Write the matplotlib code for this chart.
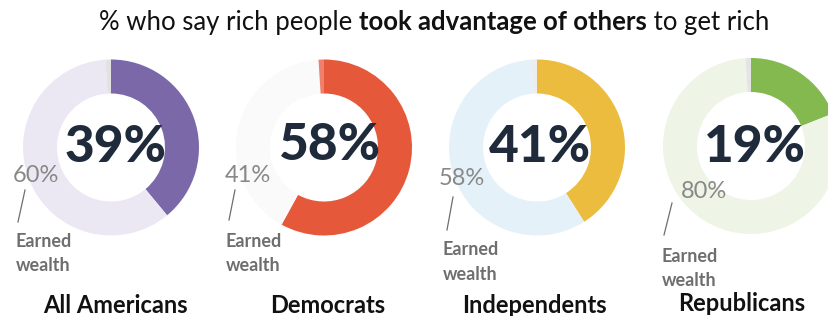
import matplotlib
matplotlib.use("Agg")
import matplotlib.pyplot as plt
from matplotlib.lines import Line2D

# ---- data ----
groups = ["All Americans", "Democrats", "Independents", "Republicans"]
took_advantage = [39, 58, 41, 19]
earned_wealth = [60, 41, 58, 80]
other = [100 - a - b for a, b in zip(took_advantage, earned_wealth)]

title_parts = ["% who say rich people ", "took advantage of others", " to get rich"]
title_weights = ["normal", "bold", "normal"]

main_colors = ["#7B68A9", "#E5583A", "#ECBC3E", "#83B94F"]
earned_colors = ["#EBE8F3", "#FAFAFA", "#E5F1F9", "#EEF4E6"]
other_colors = ["#E2E2E2", "#F0806E", "#EDEDED", "#E4E4E4"]

W, H = 829, 316
fig = plt.figure(figsize=(W / 100, H / 100), dpi=100)
fig.patch.set_facecolor("white")

def fx(x):
    return x / W

def fy(y):
    return 1 - y / H

FONT = "Lato"

# layout (pixels)
centers_x = [111, 324, 537, 751]
centers_y = [147.5, 147.5, 147.5, 146]
R = 88
r_in = 54
big_x = [116, 329, 539.5, 754.5]
big_base = [162, 160, 162, 162]
small_pos = [(13, 182), (225, 182), (439, 185), (681, 198)]
lines = [((25, 190), (18, 222)), ((235, 190), (229, 220)),
         ((453, 197), (447, 230)), ((672, 203), (664, 235))]
earned_pos = [(16, 247, 271), (226, 247, 271), (443, 255, 280), (662, 262, 286)]
label_pos = [(115.5, 313), (327.5, 313), (534, 313), (742, 311)]

for i in range(4):
    cx, cy = centers_x[i], centers_y[i]
    ax = fig.add_axes([fx(cx - R), fy(cy + R), 2 * R / W, 2 * R / H])
    ax.pie([took_advantage[i], earned_wealth[i], other[i]],
           colors=[main_colors[i], earned_colors[i], other_colors[i]],
           startangle=90, counterclock=False, radius=1,
           wedgeprops=dict(width=(R - r_in) / R, linewidth=0))
    ax.set_xlim(-1, 1)
    ax.set_ylim(-1, 1)
    ax.set_aspect("equal")
    ax.axis("off")

    fig.text(fx(big_x[i]), fy(big_base[i]), f"{took_advantage[i]}%",
             ha="center", va="baseline", fontsize=37, fontweight="black",
             color="#1F2A3A", family=FONT)
    sx, sy = small_pos[i]
    fig.text(fx(sx), fy(sy), f"{earned_wealth[i]}%", ha="left", va="baseline",
             fontsize=17, color="#888888", family=FONT)
    (x0, y0), (x1, y1) = lines[i]
    fig.add_artist(Line2D([fx(x0), fx(x1)], [fy(y0), fy(y1)],
                          color="#6E6E6E", linewidth=0.9,
                          transform=fig.transFigure))
    ex, eb1, eb2 = earned_pos[i]
    fig.text(fx(ex), fy(eb1), "Earned", ha="left", va="baseline",
             fontsize=13, fontweight="bold", color="#6E6E6E", family=FONT)
    fig.text(fx(ex), fy(eb2), "wealth", ha="left", va="baseline",
             fontsize=13, fontweight="bold", color="#6E6E6E", family=FONT)
    lx, ly = label_pos[i]
    fig.text(fx(lx), fy(ly), groups[i], ha="center", va="baseline",
             fontsize=17, fontweight="bold", color="#111111", family=FONT)

# title composed of regular / bold / regular pieces, centred as a whole
renderer = fig.canvas.get_renderer()
title_texts = []
widths = []
for part, wt in zip(title_parts, title_weights):
    t = fig.text(0, fy(30), part, ha="left", va="baseline", fontsize=18.5,
                 fontweight=wt, color="#111111", family="Lato")
    title_texts.append(t)
    widths.append(t.get_window_extent(renderer).width)
total = sum(widths)
x_start = 434 - total / 2
for t, w in zip(title_texts, widths):
    t.set_x(fx(x_start))
    x_start += w

fig.savefig("out.png", dpi=100, facecolor="white")
